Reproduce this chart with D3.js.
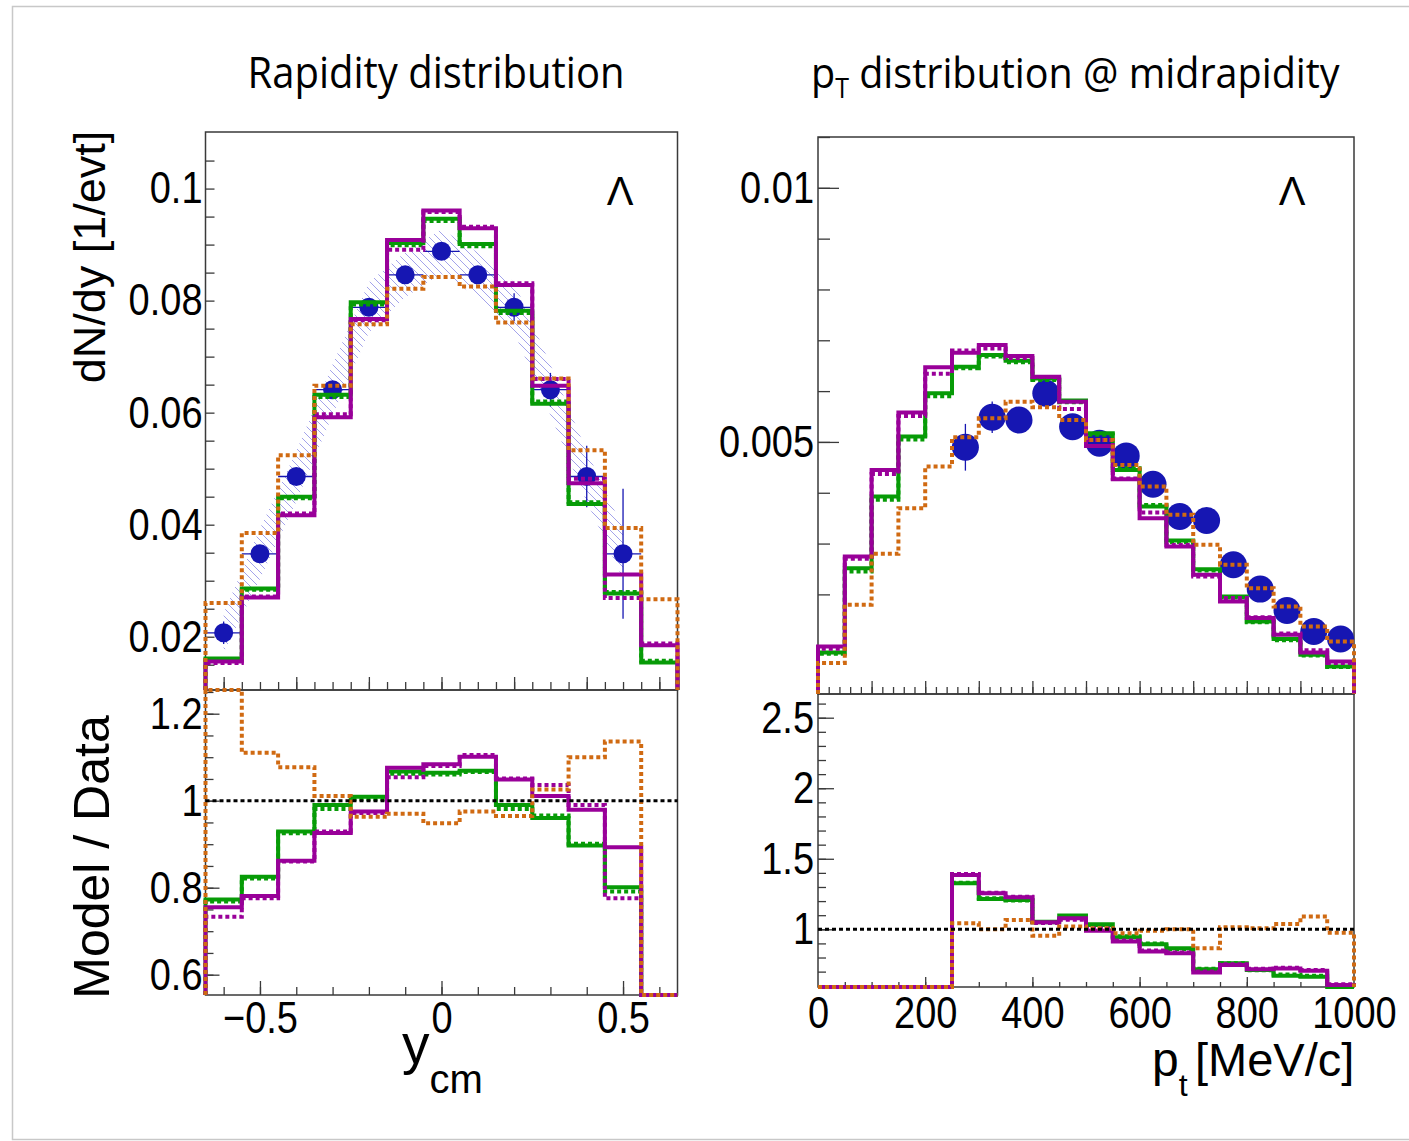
<!DOCTYPE html>
<html>
<head>
<meta charset="utf-8">
<script src="https://cdn.jsdelivr.net/npm/d3@7"></script>
<style>
  body { margin: 0; background: #fff; }
  svg { display: block; }
  text { font-family: "Liberation Sans", Arial, sans-serif; fill: #000; }
</style>
</head>
<body>
<svg id="chart" width="1409" height="1141"></svg>
<script>
// ---------- Rapidity distribution (Lambda) ----------
const ycmEdges = [-0.65, -0.55, -0.45, -0.35, -0.25, -0.15, -0.05, 0.05, 0.15, 0.25, 0.35, 0.45, 0.55, 0.65];
const ycmPoints = [-0.6, -0.5, -0.4, -0.3, -0.2, -0.1, 0, 0.1, 0.2, 0.3, 0.4, 0.5];
const dndyData  = [0.0207, 0.0348, 0.0486, 0.0641, 0.0788, 0.0846, 0.0888, 0.0846, 0.0788, 0.0641, 0.0486, 0.0348];
const dndyStat  = [0.0020, 0.0015, 0.0010, 0.0010, 0.0010, 0.0010, 0.0012, 0.0016, 0.0025, 0.0030, 0.0055, 0.0116];
const dndySys   = [0.0035, 0.0045, 0.0045, 0.0045, 0.0045, 0.0040, 0.0040, 0.0040, 0.0045, 0.0045, 0.0045, 0.0045];

const dndyGreenSolid   = [0.0161, 0.0286, 0.0450, 0.0632, 0.0797, 0.0903, 0.0946, 0.0901, 0.0782, 0.0616, 0.0437, 0.0277, 0.0154];
const dndyGreenDotted  = [0.0159, 0.0284, 0.0447, 0.0628, 0.0793, 0.0899, 0.0942, 0.0897, 0.0778, 0.0620, 0.0440, 0.0280, 0.0157];
const dndyPurpleSolid  = [0.0156, 0.0270, 0.0417, 0.0592, 0.0767, 0.0908, 0.0961, 0.0929, 0.0828, 0.0648, 0.0474, 0.0311, 0.0185];
const dndyPurpleDotted = [0.0153, 0.0272, 0.0420, 0.0597, 0.0765, 0.0891, 0.0958, 0.0932, 0.0831, 0.0660, 0.0482, 0.0269, 0.0188];
const dndyOrangeDotted = [0.0260, 0.0385, 0.0524, 0.0648, 0.0758, 0.0821, 0.0842, 0.0825, 0.0761, 0.0661, 0.0533, 0.0394, 0.0267];

// Model / Data ratios per rapidity bin (0 where there is no data point)
const ycmRatioGreenSolid   = [0.773, 0.825, 0.929, 0.990, 1.009, 1.067, 1.064, 1.069, 0.990, 0.960, 0.897, 0.801, 0];
const ycmRatioGreenDotted  = [0.768, 0.821, 0.925, 0.981, 1.004, 1.062, 1.060, 1.066, 0.981, 0.966, 0.901, 0.791, 0];
const ycmRatioPurpleSolid  = [0.755, 0.781, 0.862, 0.926, 0.975, 1.076, 1.084, 1.101, 1.049, 1.011, 0.979, 0.893, 0];
const ycmRatioPurpleDotted = [0.733, 0.776, 0.860, 0.929, 0.972, 1.054, 1.080, 1.105, 1.051, 1.036, 0.990, 0.776, 0];
const ycmRatioOrangeDotted = [1.260, 1.110, 1.077, 1.011, 0.963, 0.970, 0.948, 0.975, 0.965, 1.026, 1.100, 1.136, 0];

// ---------- pT distribution at midrapidity (Lambda) ----------
const ptEdges = [0, 50, 100, 150, 200, 250, 300, 350, 400, 450, 500, 550, 600, 650, 700, 750, 800, 850, 900, 950, 1000];
const ptPoints = [275, 325, 375, 425, 475, 525, 575, 625, 675, 725, 775, 825, 875, 925, 975];
const ptData = [0.004895, 0.005485, 0.005432, 0.005957, 0.005301, 0.004974, 0.004725, 0.004168, 0.003532, 0.003453, 0.002582, 0.002104, 0.001684, 0.001271, 0.001121];
const ptStat = [0.00046, 0.00031, 0.00020, 0.00020, 0.00020, 0.00020, 0.00020, 0.00020, 0.00020, 0.00020, 0.00020, 0.00020, 0.00020, 0.00020, 0.00020];

const ptGreenSolid   = [0.000858, 0.002516, 0.003925, 0.005105, 0.005957, 0.006481, 0.006710, 0.006599, 0.006250, 0.005813, 0.005170, 0.004450, 0.003729, 0.003060, 0.002497, 0.001959, 0.001468, 0.001120, 0.000813, 0.000583];
const ptGreenDotted  = [0.000830, 0.002450, 0.003860, 0.005050, 0.005900, 0.006450, 0.006680, 0.006570, 0.006220, 0.005780, 0.005140, 0.004480, 0.003760, 0.003030, 0.002470, 0.001940, 0.001450, 0.001100, 0.000800, 0.000570];
const ptPurpleSolid  = [0.000976, 0.002746, 0.004450, 0.005577, 0.006468, 0.006756, 0.006907, 0.006691, 0.006284, 0.005793, 0.004921, 0.004266, 0.003499, 0.002942, 0.002385, 0.001861, 0.001533, 0.001206, 0.000858, 0.000681];
const ptPurpleDotted = [0.000930, 0.002700, 0.004370, 0.005510, 0.006340, 0.006800, 0.006840, 0.006650, 0.006280, 0.005650, 0.005040, 0.004280, 0.003610, 0.002970, 0.002350, 0.001930, 0.001550, 0.001230, 0.000900, 0.000650];
const ptOrangeDotted = [0.000649, 0.001796, 0.002798, 0.003696, 0.004515, 0.005092, 0.005465, 0.005793, 0.005682, 0.005432, 0.005040, 0.004548, 0.004122, 0.003565, 0.002975, 0.002582, 0.002123, 0.001763, 0.001370, 0.001075];

const ptRatioGreenSolid   = [0, 0, 0, 0, 0, 1.326, 1.215, 1.208, 1.054, 1.097, 1.035, 0.943, 0.894, 0.865, 0.716, 0.759, 0.712, 0.671, 0.664, 0.580];
const ptRatioGreenDotted  = [0, 0, 0, 0, 0, 1.330, 1.220, 1.205, 1.050, 1.090, 1.030, 0.950, 0.900, 0.860, 0.720, 0.760, 0.710, 0.680, 0.670, 0.600];
const ptRatioPurpleSolid  = [0, 0, 0, 0, 0, 1.385, 1.255, 1.227, 1.050, 1.078, 0.990, 0.913, 0.842, 0.830, 0.693, 0.747, 0.716, 0.723, 0.707, 0.605];
const ptRatioPurpleDotted = [0, 0, 0, 0, 0, 1.392, 1.260, 1.230, 1.045, 1.068, 1.005, 0.920, 0.850, 0.835, 0.700, 0.752, 0.720, 0.728, 0.712, 0.610];
const ptRatioOrangeDotted = [0, 0, 0, 0, 0, 1.043, 1.000, 1.066, 0.955, 1.019, 1.007, 0.972, 0.990, 1.000, 0.865, 1.014, 1.007, 1.038, 1.090, 0.976];

// ---------- tick labels ----------
const dndyTickLabels = [0.02, 0.04, 0.06, 0.08, 0.1];
const ycmRatioTickLabels = [0.6, 0.8, 1, 1.2];
const ycmTickLabels = [-0.5, 0, 0.5];
const ptSpectrumTickLabels = [0.005, 0.01];
const ptRatioTickLabels = [1, 1.5, 2, 2.5];
const ptTickLabels = [0, 200, 400, 600, 800, 1000];

// ---------- styling ----------
const COL = { green: "#079b07", purple: "#990099", orange: "#d06a12", blue: "#1616b2", hatch: "#a3a3ea", frame: "#3a3a3a" };
const DOTS = "4,3";
const FONT_TICK = 38;
const TICK_STRETCH = "scale(1,1.18)";

const svg = d3.select("#chart");

// outer slide border
svg.append("rect").attr("x", 12.5).attr("y", 6.5).attr("width", 1402).attr("height", 1133)
  .attr("fill", "none").attr("stroke", "#c8c8c8").attr("stroke-width", 1.5);

// hatch pattern for the systematic band
const defs = svg.append("defs");
const pat = defs.append("pattern").attr("id", "hatch").attr("patternUnits", "userSpaceOnUse")
  .attr("width", 8).attr("height", 8);
pat.append("path").attr("d", "M-1,-1 L9,9 M-9,-1 L1,9 M7,-1 L17,9")
  .attr("stroke", COL.hatch).attr("stroke-width", 1).attr("fill", "none");

// scales
const xY   = d3.scaleLinear().domain([-0.65, 0.65]).range([205.5, 677.5]);
const yTop = d3.scaleLinear().domain([0.01049, 0.1101]).range([690, 132]).clamp(true);
const yRat = d3.scaleLinear().domain([0.5533, 1.2545]).range([995, 690]).clamp(true);

const xPt    = d3.scaleLinear().domain([0, 1000]).range([818, 1354]);
const yPtTop = d3.scaleLinear().domain([0.00004, 0.011]).range([694, 137]).clamp(true);
const yPtRat = d3.scaleLinear().domain([0.591, 2.668]).range([987, 694]).clamp(true);

function frame(x, y) {
  svg.append("rect")
    .attr("x", x.range()[0]).attr("y", y.range()[1])
    .attr("width", x.range()[1] - x.range()[0]).attr("height", y.range()[0] - y.range()[1])
    .attr("fill", "none").attr("stroke", COL.frame).attr("stroke-width", 1.5);
}

// inward ticks along the left edge
function leftTicks(y, x0, values, len) {
  svg.append("g").attr("transform", `translate(${x0},0)`)
    .call(d3.axisRight(y).tickValues(values).tickSize(len).tickFormat(""))
    .call(g => g.select(".domain").remove())
    .call(g => g.selectAll("line").attr("stroke", COL.frame).attr("stroke-width", 1.3));
}
// inward ticks along the bottom edge
function bottomTicks(x, y0, values, len) {
  svg.append("g").attr("transform", `translate(0,${y0})`)
    .call(d3.axisTop(x).tickValues(values).tickSize(len).tickFormat(""))
    .call(g => g.select(".domain").remove())
    .call(g => g.selectAll("line").attr("stroke", COL.frame).attr("stroke-width", 1.3));
}
function styleLabels(g) {
  g.selectAll("text").style("font-size", FONT_TICK + "px")
    .style("font-family", "'Liberation Sans', Arial, sans-serif")
    .attr("fill", "#000").attr("transform", TICK_STRETCH);
}
function leftLabels(y, x0, values, fmt, pad) {
  svg.append("g").attr("transform", `translate(${x0},0)`)
    .call(d3.axisLeft(y).tickValues(values).tickSize(0).tickPadding(pad).tickFormat(fmt))
    .call(g => g.select(".domain").remove())
    .call(styleLabels);
}
function bottomLabels(x, y0, values, fmt, pad) {
  svg.append("g").attr("transform", `translate(0,${y0})`)
    .call(d3.axisBottom(x).tickValues(values).tickSize(0).tickPadding(pad).tickFormat(fmt))
    .call(g => g.select(".domain").remove())
    .call(styleLabels);
}

function histPath(edges, vals, x, y) {
  const pts = [[edges[0], 0]];
  vals.forEach((v, i) => { pts.push([edges[i], v]); pts.push([edges[i + 1], v]); });
  pts.push([edges[edges.length - 1], 0]);
  return d3.line().x(d => x(d[0])).y(d => y(d[1]))(pts);
}
function drawHists(edges, series, x, y) {
  series.forEach(s => {
    svg.append("path").attr("d", histPath(edges, s.vals, x, y))
      .attr("fill", "none").attr("stroke", s.color).attr("stroke-width", 4)
      .attr("stroke-linejoin", "miter").attr("stroke-dasharray", s.dash);
  });
}
function unityLine(x, y) {
  svg.append("line").attr("x1", x.range()[0]).attr("x2", x.range()[1])
    .attr("y1", y(1)).attr("y2", y(1))
    .attr("stroke", "#000").attr("stroke-width", 3).attr("stroke-dasharray", DOTS);
}

const ints = (a, b, step, div) => d3.range(a, b + 1, step).map(v => v / div);

// ================= left: rapidity =================
frame(xY, yTop);
frame(xY, yRat);

leftTicks(yTop, 205.5, ints(15, 105, 5, 1000), 9);
bottomTicks(xY, 690, ints(-60, 60, 5, 100), 8);
bottomTicks(xY, 690, ints(-60, 60, 20, 100), 13);
leftLabels(yTop, 205.5, dndyTickLabels, d => String(d), 3);

leftTicks(yRat, 205.5, ints(60, 125, 5, 100), 8);
leftTicks(yRat, 205.5, ints(60, 120, 20, 100), 14);
bottomTicks(xY, 995, ints(-60, 60, 10, 100), 8);
bottomTicks(xY, 995, ycmTickLabels, 14);
leftLabels(yRat, 205.5, ycmRatioTickLabels, d => String(d), 3);
bottomLabels(xY, 995, ycmTickLabels, d => d < 0 ? "\u2212" + String(-d) : String(d), 5);

// systematic band
const band = ycmPoints.map((c, i) => ({ c, v: dndyData[i], s: dndySys[i] }));
svg.append("path")
  .attr("d", d3.area().x(d => xY(d.c)).y0(d => yTop(d.v - d.s)).y1(d => yTop(d.v + d.s))(band))
  .attr("fill", "url(#hatch)").attr("stroke", "none");

// data points with error bars
const ptsL = svg.append("g");
ycmPoints.forEach((c, i) => {
  ptsL.append("line").attr("x1", xY(c - 0.05)).attr("x2", xY(c + 0.05))
    .attr("y1", yTop(dndyData[i])).attr("y2", yTop(dndyData[i]))
    .attr("stroke", COL.blue).attr("stroke-width", 1.3);
  ptsL.append("line").attr("x1", xY(c)).attr("x2", xY(c))
    .attr("y1", yTop(dndyData[i] - dndyStat[i])).attr("y2", yTop(dndyData[i] + dndyStat[i]))
    .attr("stroke", COL.blue).attr("stroke-width", 1.3);
  ptsL.append("circle").attr("cx", xY(c)).attr("cy", yTop(dndyData[i])).attr("r", 9.5).attr("fill", COL.blue);
});

drawHists(ycmEdges, [
  { vals: dndyGreenSolid, color: COL.green, dash: null },
  { vals: dndyGreenDotted, color: COL.green, dash: DOTS },
  { vals: dndyPurpleSolid, color: COL.purple, dash: null },
  { vals: dndyPurpleDotted, color: COL.purple, dash: DOTS },
  { vals: dndyOrangeDotted, color: COL.orange, dash: DOTS }
], xY, yTop);

drawHists(ycmEdges, [
  { vals: ycmRatioGreenSolid, color: COL.green, dash: null },
  { vals: ycmRatioGreenDotted, color: COL.green, dash: DOTS },
  { vals: ycmRatioPurpleSolid, color: COL.purple, dash: null },
  { vals: ycmRatioPurpleDotted, color: COL.purple, dash: DOTS },
  { vals: ycmRatioOrangeDotted, color: COL.orange, dash: DOTS }
], xY, yRat);
unityLine(xY, yRat);

// ================= right: pT =================
frame(xPt, yPtTop);
frame(xPt, yPtRat);

leftTicks(yPtTop, 818, ints(1, 11, 1, 1000), 12);
leftTicks(yPtTop, 818, ptSpectrumTickLabels, 21);
bottomTicks(xPt, 694, d3.range(20, 1000, 20), 7);
bottomTicks(xPt, 694, d3.range(100, 1000, 100), 13);
leftLabels(yPtTop, 818, ptSpectrumTickLabels, d => String(d), 4);

leftTicks(yPtRat, 818, ints(6, 26, 1, 10), 8);
leftTicks(yPtRat, 818, ptRatioTickLabels, 16);
bottomTicks(xPt, 987, d3.range(50, 1000, 50), 5);
bottomTicks(xPt, 987, d3.range(200, 1000, 200), 10);
leftLabels(yPtRat, 818, ptRatioTickLabels, d => String(d), 4);
bottomLabels(xPt, 987, ptTickLabels, d => String(d), 8);

const ptsR = svg.append("g");
ptPoints.forEach((c, i) => {
  ptsR.append("line").attr("x1", xPt(c)).attr("x2", xPt(c))
    .attr("y1", yPtTop(ptData[i] - ptStat[i])).attr("y2", yPtTop(ptData[i] + ptStat[i]))
    .attr("stroke", COL.blue).attr("stroke-width", 1.3);
  ptsR.append("circle").attr("cx", xPt(c)).attr("cy", yPtTop(ptData[i])).attr("r", 13.5).attr("fill", COL.blue);
});

drawHists(ptEdges, [
  { vals: ptGreenSolid, color: COL.green, dash: null },
  { vals: ptGreenDotted, color: COL.green, dash: DOTS },
  { vals: ptPurpleSolid, color: COL.purple, dash: null },
  { vals: ptPurpleDotted, color: COL.purple, dash: DOTS },
  { vals: ptOrangeDotted, color: COL.orange, dash: DOTS }
], xPt, yPtTop);

drawHists(ptEdges, [
  { vals: ptRatioGreenSolid, color: COL.green, dash: null },
  { vals: ptRatioGreenDotted, color: COL.green, dash: DOTS },
  { vals: ptRatioPurpleSolid, color: COL.purple, dash: null },
  { vals: ptRatioPurpleDotted, color: COL.purple, dash: DOTS },
  { vals: ptRatioOrangeDotted, color: COL.orange, dash: DOTS }
], xPt, yPtRat);
unityLine(xPt, yPtRat);

// ================= titles and axis labels =================
const titleFont = "'Open Sans', 'Liberation Sans', sans-serif";
svg.append("text").attr("transform", "translate(436,88) scale(1,1.08)").attr("text-anchor", "middle")
  .style("font-family", titleFont).style("font-size", "40px").text("Rapidity distribution");

const t2 = svg.append("text").attr("transform", "translate(811,88) scale(1,1.08)")
  .style("font-family", titleFont).style("font-size", "39.5px");
t2.append("tspan").text("p");
t2.append("tspan").attr("dy", 9).style("font-size", "25px").text("T");
t2.append("tspan").attr("dy", -9).text(" distribution @ midrapidity");

svg.append("text").attr("x", 620).attr("y", 205).attr("text-anchor", "middle")
  .style("font-size", "40px").text("\u039B");
svg.append("text").attr("x", 1292).attr("y", 205).attr("text-anchor", "middle")
  .style("font-size", "40px").text("\u039B");

svg.append("text").attr("transform", "translate(105,257) rotate(-90)").attr("text-anchor", "middle")
  .style("font-size", "45px").text("dN/dy [1/evt]");
svg.append("text").attr("transform", "translate(109,857) rotate(-90)").attr("text-anchor", "middle")
  .style("font-size", "50px").text("Model / Data");

const xl = svg.append("text").attr("x", 402).attr("y", 1063).style("font-size", "55px");
xl.append("tspan").text("y");
xl.append("tspan").attr("dy", 30).style("font-size", "40px").text("cm");

const pl = svg.append("text").attr("x", 1152).attr("y", 1076).style("font-size", "48px");
pl.append("tspan").text("p");
pl.append("tspan").attr("dy", 20).style("font-size", "32px").text("t");
svg.append("text").attr("x", 1195).attr("y", 1076).style("font-size", "47px").text("[MeV/c]");
</script>
</body>
</html>
